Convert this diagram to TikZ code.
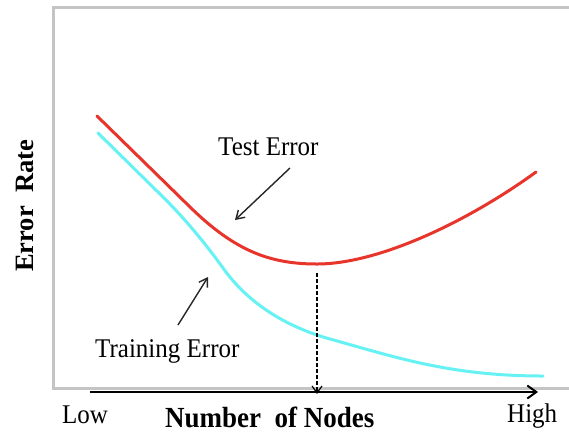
\documentclass[tikz,border=0pt]{standalone}
\usepackage{fontspec}
\setmainfont{Liberation Serif}
\usetikzlibrary{arrows.meta}
\definecolor{testred}{HTML}{E8352C}
\definecolor{traincyan}{HTML}{66F2F4}
\definecolor{framegray}{HTML}{C4C4C4}
\tikzset{
  curve/.style={line width=3pt, line cap=round, line join=round},
  pointer/.style={line width=1.4pt, draw=black!85, -{Straight Barb[length=8pt,width=10pt,line width=1.4pt]}},
  lbl/.style={inner sep=0pt, anchor=base west, font=\fontsize{25}{25}\selectfont},
  axlbl/.style={inner sep=0pt, anchor=base west, font=\fontsize{27}{27}\selectfont\bfseries},
}
\newcommand{\tall}[1]{\scalebox{1}[1.08]{#1}}
\begin{document}
\begin{tikzpicture}[x=1pt, y=-1pt]
\useasboundingbox (0,0) rectangle (569,432);
\fill[white] (0,0) rectangle (569,432);

% plot frame (open to the right)
\draw[framegray, line width=3pt] (569,7) -- (53,7) -- (53,388) -- (569,388);

% test error: falls, bottoms out, rises again
\draw[curve, testred] (97,116) -- (190,207)
  .. controls (235,251) and (270,264) .. (317,264)
  .. controls (380,264) and (470,220) .. (536,172);
% training error: falls steadily and levels off
\draw[curve, traincyan] (98,133) -- (165,199)
  .. controls (185,219) and (205,243) .. (223,268)
  .. controls (245,299) and (280,325) .. (330,339)
  .. controls (395,357) and (450,376) .. (543,376);

% axis
\coordinate (axstart) at (90,392);
\coordinate (axend) at (538,392);
\draw[line width=2.6pt, -{Straight Barb[length=9pt,width=13pt,line width=2pt]}] (axstart) -- (axend);

% minimum marker
\coordinate (minpt) at (317,273);
\coordinate (minfoot) at (317,394);
\draw[line width=1.2pt, dash pattern=on 3.5pt off 2.5pt,
      -{Straight Barb[length=7pt,width=10pt,line width=1.2pt]}] (minpt) -- (minfoot);

% labels
\node[lbl] (test) at (218,155) {\tall{Test Error}};
\node[lbl] (train) at (95,357) {\tall{Training Error}};
\node[lbl] (low) at (62,423) {\tall{Low}};
\node[lbl] (high) at (507,422) {\tall{High}};
\node[axlbl] (xlab) at (165,427) {\tall{Number\ \ of Nodes}};
\node[axlbl, rotate=90, font=\fontsize{26.5}{26.5}\selectfont\bfseries] (ylab) at (33,272) {Error\ \ Rate};

% pointers
\coordinate (testtip) at (235,220);
\coordinate (traintip) at (208,277);
\draw[pointer] ([xshift=72pt,yshift=-13pt]test.base west) -- (testtip);
\draw[pointer] ([xshift=83pt,yshift=32pt]train.base west) -- (traintip);
\end{tikzpicture}
\end{document}
